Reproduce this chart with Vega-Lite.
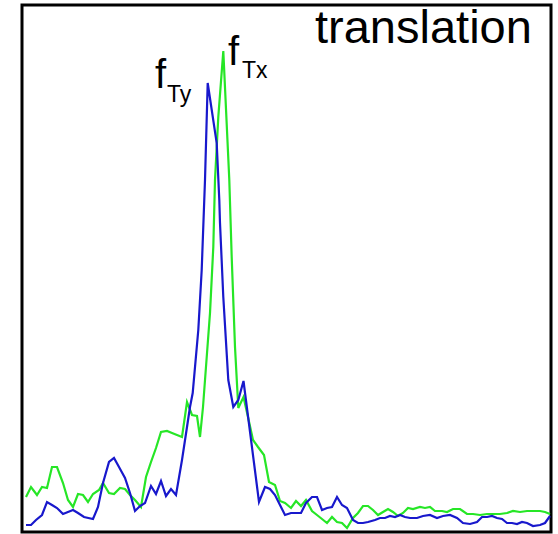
{
  "$schema": "https://vega.github.io/schema/vega-lite/v6.json",
  "width": 529,
  "height": 527,
  "autosize": {"type": "none"},
  "padding": {"left": 22, "top": 5, "right": 7, "bottom": 2},
  "background": "white",
  "config": {
    "view": {"stroke": "black", "strokeWidth": 3},
    "font": "Liberation Sans"
  },
  "datasets": {
    "spectrum": [
      {"series": "f_Tx", "frame": 4, "amplitude": 35},
      {"series": "f_Tx", "frame": 9, "amplitude": 45},
      {"series": "f_Tx", "frame": 15, "amplitude": 37},
      {"series": "f_Tx", "frame": 20, "amplitude": 45},
      {"series": "f_Tx", "frame": 25, "amplitude": 44},
      {"series": "f_Tx", "frame": 30, "amplitude": 65},
      {"series": "f_Tx", "frame": 35, "amplitude": 65},
      {"series": "f_Tx", "frame": 41, "amplitude": 49},
      {"series": "f_Tx", "frame": 46, "amplitude": 32},
      {"series": "f_Tx", "frame": 51, "amplitude": 25},
      {"series": "f_Tx", "frame": 56, "amplitude": 38},
      {"series": "f_Tx", "frame": 61, "amplitude": 37},
      {"series": "f_Tx", "frame": 66, "amplitude": 30},
      {"series": "f_Tx", "frame": 71, "amplitude": 38},
      {"series": "f_Tx", "frame": 77, "amplitude": 42},
      {"series": "f_Tx", "frame": 81, "amplitude": 49},
      {"series": "f_Tx", "frame": 87, "amplitude": 39},
      {"series": "f_Tx", "frame": 92, "amplitude": 38},
      {"series": "f_Tx", "frame": 98, "amplitude": 44},
      {"series": "f_Tx", "frame": 103, "amplitude": 43},
      {"series": "f_Tx", "frame": 108, "amplitude": 37},
      {"series": "f_Tx", "frame": 113, "amplitude": 32},
      {"series": "f_Tx", "frame": 119, "amplitude": 25},
      {"series": "f_Tx", "frame": 124, "amplitude": 55},
      {"series": "f_Tx", "frame": 129, "amplitude": 70},
      {"series": "f_Tx", "frame": 134, "amplitude": 84},
      {"series": "f_Tx", "frame": 139, "amplitude": 100},
      {"series": "f_Tx", "frame": 145, "amplitude": 101},
      {"series": "f_Tx", "frame": 150, "amplitude": 99},
      {"series": "f_Tx", "frame": 155, "amplitude": 97},
      {"series": "f_Tx", "frame": 160, "amplitude": 95},
      {"series": "f_Tx", "frame": 165, "amplitude": 130},
      {"series": "f_Tx", "frame": 170, "amplitude": 117},
      {"series": "f_Tx", "frame": 175, "amplitude": 116},
      {"series": "f_Tx", "frame": 178, "amplitude": 95},
      {"series": "f_Tx", "frame": 181, "amplitude": 125},
      {"series": "f_Tx", "frame": 188, "amplitude": 219},
      {"series": "f_Tx", "frame": 191.3, "amplitude": 285},
      {"series": "f_Tx", "frame": 193, "amplitude": 352},
      {"series": "f_Tx", "frame": 196.3, "amplitude": 415},
      {"series": "f_Tx", "frame": 201.3, "amplitude": 481},
      {"series": "f_Tx", "frame": 207.3, "amplitude": 352},
      {"series": "f_Tx", "frame": 209.7, "amplitude": 275},
      {"series": "f_Tx", "frame": 213, "amplitude": 185},
      {"series": "f_Tx", "frame": 216.3, "amplitude": 124},
      {"series": "f_Tx", "frame": 221.5, "amplitude": 135},
      {"series": "f_Tx", "frame": 226, "amplitude": 115},
      {"series": "f_Tx", "frame": 231, "amplitude": 92},
      {"series": "f_Tx", "frame": 236, "amplitude": 85},
      {"series": "f_Tx", "frame": 242, "amplitude": 77},
      {"series": "f_Tx", "frame": 247, "amplitude": 50},
      {"series": "f_Tx", "frame": 253, "amplitude": 47},
      {"series": "f_Tx", "frame": 258, "amplitude": 31},
      {"series": "f_Tx", "frame": 263, "amplitude": 29},
      {"series": "f_Tx", "frame": 269, "amplitude": 24},
      {"series": "f_Tx", "frame": 274, "amplitude": 31},
      {"series": "f_Tx", "frame": 279, "amplitude": 26},
      {"series": "f_Tx", "frame": 284, "amplitude": 32},
      {"series": "f_Tx", "frame": 290, "amplitude": 21},
      {"series": "f_Tx", "frame": 295, "amplitude": 17},
      {"series": "f_Tx", "frame": 300, "amplitude": 13},
      {"series": "f_Tx", "frame": 305, "amplitude": 9},
      {"series": "f_Tx", "frame": 310, "amplitude": 15},
      {"series": "f_Tx", "frame": 315, "amplitude": 10},
      {"series": "f_Tx", "frame": 320, "amplitude": 9},
      {"series": "f_Tx", "frame": 325, "amplitude": 4},
      {"series": "f_Tx", "frame": 331, "amplitude": 14},
      {"series": "f_Tx", "frame": 336, "amplitude": 19},
      {"series": "f_Tx", "frame": 341, "amplitude": 26},
      {"series": "f_Tx", "frame": 346, "amplitude": 26},
      {"series": "f_Tx", "frame": 351, "amplitude": 22},
      {"series": "f_Tx", "frame": 356, "amplitude": 17},
      {"series": "f_Tx", "frame": 361, "amplitude": 20},
      {"series": "f_Tx", "frame": 366, "amplitude": 23},
      {"series": "f_Tx", "frame": 371, "amplitude": 20},
      {"series": "f_Tx", "frame": 376, "amplitude": 16},
      {"series": "f_Tx", "frame": 381, "amplitude": 19},
      {"series": "f_Tx", "frame": 386, "amplitude": 24},
      {"series": "f_Tx", "frame": 391, "amplitude": 23},
      {"series": "f_Tx", "frame": 398, "amplitude": 25},
      {"series": "f_Tx", "frame": 403, "amplitude": 24},
      {"series": "f_Tx", "frame": 408, "amplitude": 25},
      {"series": "f_Tx", "frame": 413, "amplitude": 21},
      {"series": "f_Tx", "frame": 420, "amplitude": 21},
      {"series": "f_Tx", "frame": 425, "amplitude": 20},
      {"series": "f_Tx", "frame": 431, "amplitude": 23},
      {"series": "f_Tx", "frame": 438, "amplitude": 23},
      {"series": "f_Tx", "frame": 445, "amplitude": 18},
      {"series": "f_Tx", "frame": 451, "amplitude": 18},
      {"series": "f_Tx", "frame": 458, "amplitude": 17},
      {"series": "f_Tx", "frame": 465, "amplitude": 18},
      {"series": "f_Tx", "frame": 471, "amplitude": 18},
      {"series": "f_Tx", "frame": 478, "amplitude": 18},
      {"series": "f_Tx", "frame": 485, "amplitude": 19},
      {"series": "f_Tx", "frame": 491, "amplitude": 21},
      {"series": "f_Tx", "frame": 498, "amplitude": 20},
      {"series": "f_Tx", "frame": 505, "amplitude": 21},
      {"series": "f_Tx", "frame": 511, "amplitude": 21},
      {"series": "f_Tx", "frame": 518, "amplitude": 21},
      {"series": "f_Tx", "frame": 523, "amplitude": 20},
      {"series": "f_Tx", "frame": 528, "amplitude": 18},

      {"series": "f_Ty", "frame": 4, "amplitude": 7},
      {"series": "f_Ty", "frame": 9, "amplitude": 7},
      {"series": "f_Ty", "frame": 14, "amplitude": 12},
      {"series": "f_Ty", "frame": 20, "amplitude": 17},
      {"series": "f_Ty", "frame": 25, "amplitude": 30},
      {"series": "f_Ty", "frame": 30, "amplitude": 27},
      {"series": "f_Ty", "frame": 35, "amplitude": 24},
      {"series": "f_Ty", "frame": 41, "amplitude": 18},
      {"series": "f_Ty", "frame": 51, "amplitude": 22},
      {"series": "f_Ty", "frame": 56, "amplitude": 19},
      {"series": "f_Ty", "frame": 62, "amplitude": 15},
      {"series": "f_Ty", "frame": 71, "amplitude": 13},
      {"series": "f_Ty", "frame": 76, "amplitude": 25},
      {"series": "f_Ty", "frame": 81, "amplitude": 49},
      {"series": "f_Ty", "frame": 87, "amplitude": 70},
      {"series": "f_Ty", "frame": 92, "amplitude": 74},
      {"series": "f_Ty", "frame": 97, "amplitude": 65},
      {"series": "f_Ty", "frame": 103, "amplitude": 54},
      {"series": "f_Ty", "frame": 108, "amplitude": 39},
      {"series": "f_Ty", "frame": 113, "amplitude": 21},
      {"series": "f_Ty", "frame": 118, "amplitude": 26},
      {"series": "f_Ty", "frame": 123, "amplitude": 29},
      {"series": "f_Ty", "frame": 129, "amplitude": 46},
      {"series": "f_Ty", "frame": 134, "amplitude": 38},
      {"series": "f_Ty", "frame": 139, "amplitude": 51},
      {"series": "f_Ty", "frame": 144, "amplitude": 36},
      {"series": "f_Ty", "frame": 149, "amplitude": 43},
      {"series": "f_Ty", "frame": 154, "amplitude": 37},
      {"series": "f_Ty", "frame": 160, "amplitude": 72},
      {"series": "f_Ty", "frame": 165, "amplitude": 105},
      {"series": "f_Ty", "frame": 168, "amplitude": 125},
      {"series": "f_Ty", "frame": 170.7, "amplitude": 139},
      {"series": "f_Ty", "frame": 176.3, "amplitude": 202},
      {"series": "f_Ty", "frame": 179.7, "amplitude": 262},
      {"series": "f_Ty", "frame": 183, "amplitude": 352},
      {"series": "f_Ty", "frame": 185.7, "amplitude": 449},
      {"series": "f_Ty", "frame": 194.7, "amplitude": 389},
      {"series": "f_Ty", "frame": 197.3, "amplitude": 332},
      {"series": "f_Ty", "frame": 198, "amplitude": 309},
      {"series": "f_Ty", "frame": 201.3, "amplitude": 235},
      {"series": "f_Ty", "frame": 206.3, "amplitude": 152},
      {"series": "f_Ty", "frame": 211.3, "amplitude": 125},
      {"series": "f_Ty", "frame": 216.3, "amplitude": 132},
      {"series": "f_Ty", "frame": 221.5, "amplitude": 151},
      {"series": "f_Ty", "frame": 237, "amplitude": 30},
      {"series": "f_Ty", "frame": 243, "amplitude": 45},
      {"series": "f_Ty", "frame": 248, "amplitude": 43},
      {"series": "f_Ty", "frame": 253, "amplitude": 37},
      {"series": "f_Ty", "frame": 258, "amplitude": 27},
      {"series": "f_Ty", "frame": 263, "amplitude": 17},
      {"series": "f_Ty", "frame": 269, "amplitude": 19},
      {"series": "f_Ty", "frame": 274, "amplitude": 19},
      {"series": "f_Ty", "frame": 279, "amplitude": 19},
      {"series": "f_Ty", "frame": 284, "amplitude": 29},
      {"series": "f_Ty", "frame": 290, "amplitude": 35},
      {"series": "f_Ty", "frame": 295, "amplitude": 35},
      {"series": "f_Ty", "frame": 300, "amplitude": 22},
      {"series": "f_Ty", "frame": 305, "amplitude": 24},
      {"series": "f_Ty", "frame": 310, "amplitude": 25},
      {"series": "f_Ty", "frame": 315, "amplitude": 35},
      {"series": "f_Ty", "frame": 320, "amplitude": 27},
      {"series": "f_Ty", "frame": 325, "amplitude": 24},
      {"series": "f_Ty", "frame": 331, "amplitude": 12},
      {"series": "f_Ty", "frame": 336, "amplitude": 9},
      {"series": "f_Ty", "frame": 341, "amplitude": 9},
      {"series": "f_Ty", "frame": 346, "amplitude": 10},
      {"series": "f_Ty", "frame": 353, "amplitude": 12},
      {"series": "f_Ty", "frame": 358, "amplitude": 14},
      {"series": "f_Ty", "frame": 363, "amplitude": 14},
      {"series": "f_Ty", "frame": 368, "amplitude": 16},
      {"series": "f_Ty", "frame": 373, "amplitude": 15},
      {"series": "f_Ty", "frame": 378, "amplitude": 17},
      {"series": "f_Ty", "frame": 383, "amplitude": 15},
      {"series": "f_Ty", "frame": 388, "amplitude": 14},
      {"series": "f_Ty", "frame": 395, "amplitude": 14},
      {"series": "f_Ty", "frame": 401, "amplitude": 16},
      {"series": "f_Ty", "frame": 408, "amplitude": 17},
      {"series": "f_Ty", "frame": 415, "amplitude": 14},
      {"series": "f_Ty", "frame": 421, "amplitude": 16},
      {"series": "f_Ty", "frame": 428, "amplitude": 17},
      {"series": "f_Ty", "frame": 435, "amplitude": 14},
      {"series": "f_Ty", "frame": 441, "amplitude": 9},
      {"series": "f_Ty", "frame": 448, "amplitude": 8},
      {"series": "f_Ty", "frame": 455, "amplitude": 10},
      {"series": "f_Ty", "frame": 460, "amplitude": 15},
      {"series": "f_Ty", "frame": 465, "amplitude": 15},
      {"series": "f_Ty", "frame": 470, "amplitude": 16},
      {"series": "f_Ty", "frame": 475, "amplitude": 14},
      {"series": "f_Ty", "frame": 480, "amplitude": 13},
      {"series": "f_Ty", "frame": 485, "amplitude": 9},
      {"series": "f_Ty", "frame": 490, "amplitude": 9},
      {"series": "f_Ty", "frame": 495, "amplitude": 8},
      {"series": "f_Ty", "frame": 500, "amplitude": 10},
      {"series": "f_Ty", "frame": 505, "amplitude": 9},
      {"series": "f_Ty", "frame": 511, "amplitude": 6},
      {"series": "f_Ty", "frame": 518, "amplitude": 7},
      {"series": "f_Ty", "frame": 523, "amplitude": 9},
      {"series": "f_Ty", "frame": 528, "amplitude": 16}
    ],
    "title": [{"text": "translation", "frame": 293, "amplitude": 489}],
    "symbols": [
      {"text": "f", "frame": 133, "amplitude": 444},
      {"text": "f", "frame": 206, "amplitude": 467}
    ],
    "subscripts": [
      {"text": "Ty", "frame": 145, "amplitude": 430},
      {"text": "Tx", "frame": 220, "amplitude": 454}
    ]
  },
  "encoding": {
    "x": {"field": "frame", "type": "quantitative", "scale": {"domain": [0, 529], "nice": false, "zero": false}, "axis": null},
    "y": {"field": "amplitude", "type": "quantitative", "scale": {"domain": [0, 527], "nice": false, "zero": false}, "axis": null}
  },
  "layer": [
    {
      "data": {"name": "spectrum"},
      "mark": {"type": "line", "strokeWidth": 2.2, "interpolate": "linear"},
      "encoding": {
        "color": {
          "field": "series",
          "type": "nominal",
          "scale": {"domain": ["f_Tx", "f_Ty"], "range": ["#26e626", "#1818cc"]},
          "legend": null
        }
      }
    },
    {
      "data": {"name": "title"},
      "mark": {"type": "text", "fontSize": 47, "align": "left", "baseline": "alphabetic", "color": "black"},
      "encoding": {"text": {"field": "text"}}
    },
    {
      "data": {"name": "symbols"},
      "mark": {"type": "text", "fontSize": 40, "align": "left", "baseline": "alphabetic", "color": "black"},
      "encoding": {"text": {"field": "text"}}
    },
    {
      "data": {"name": "subscripts"},
      "mark": {"type": "text", "fontSize": 23, "align": "left", "baseline": "alphabetic", "color": "black"},
      "encoding": {"text": {"field": "text"}}
    }
  ]
}
